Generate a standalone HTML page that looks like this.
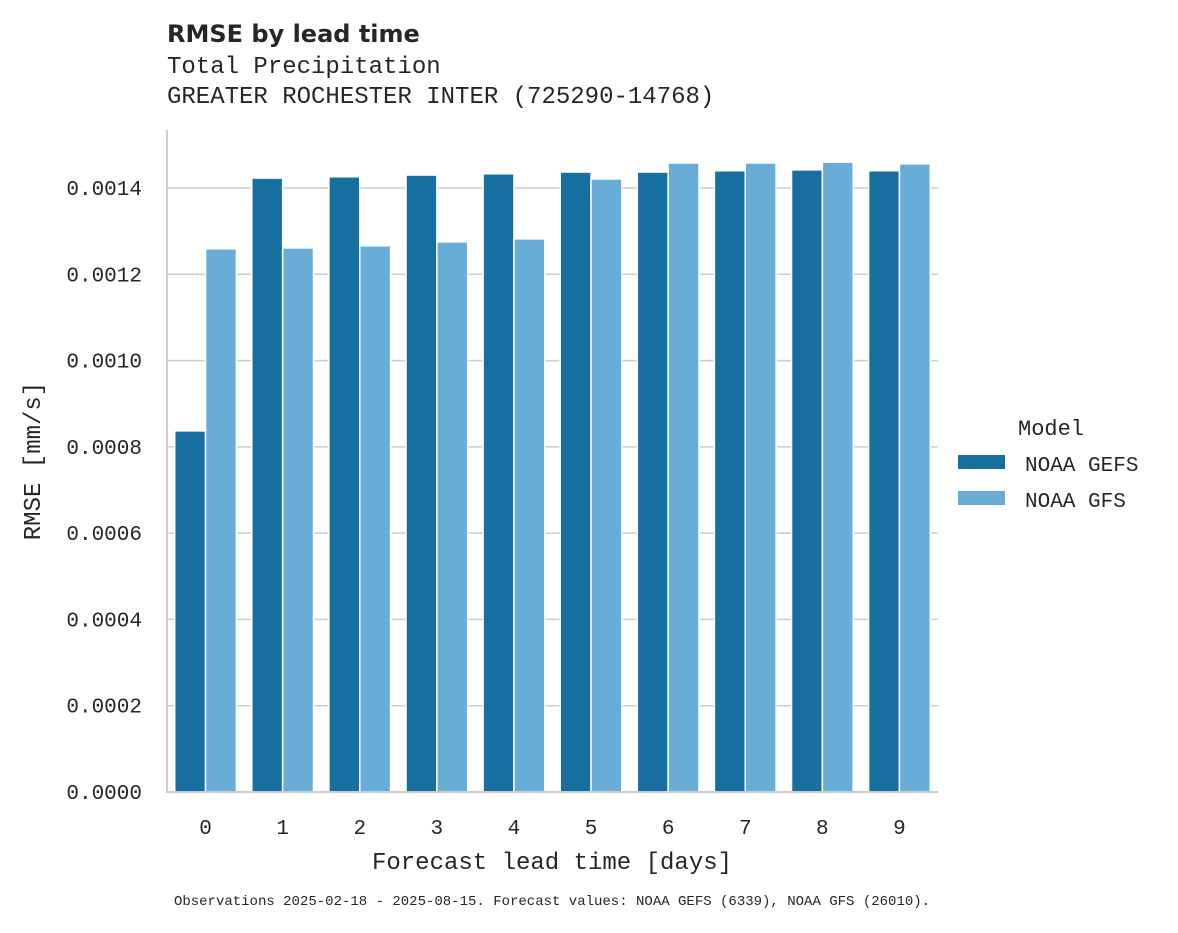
<!DOCTYPE html>
<html><head><meta charset="utf-8"><style>
body{margin:0;background:#fff}
svg text{font-family:"Liberation Mono",monospace;fill:#262626}
</style></head><body>
<svg width="1178" height="928" viewBox="0 0 1178 928" xmlns="http://www.w3.org/2000/svg" id="svg">
<text x="167" y="42" style="font-family:'DejaVu Sans','Liberation Sans',sans-serif;font-weight:bold;font-size:24px">RMSE by lead time</text>
<text x="167" y="73" font-size="24">Total Precipitation</text>
<text x="167" y="103" font-size="24">GREATER ROCHESTER INTER (725290-14768)</text>
<g id="grid"></g><g id="bars"></g><g id="axes"></g>
<text transform="translate(40,461) rotate(-90)" text-anchor="middle" font-size="24">RMSE [mm/s]</text>
<text x="552" y="869" text-anchor="middle" font-size="24">Forecast lead time [days]</text>
<g>
<text x="1018" y="435" font-size="22">Model</text>
<rect x="958" y="455" width="47" height="14" fill="#176f9f"/>
<text x="1025" y="471" font-size="21">NOAA GEFS</text>
<rect x="958" y="491" width="47" height="14" fill="#67add6"/>
<text x="1025" y="507" font-size="21">NOAA GFS</text>
</g>
<text x="552" y="905" text-anchor="middle" font-size="14">Observations 2025-02-18 - 2025-08-15. Forecast values: NOAA GEFS (6339), NOAA GFS (26010).</text>
</svg>
<script>
const categories=["0","1","2","3","4","5","6","7","8","9"];
const gefs=[0.000837,0.001423,0.001426,0.00143,0.001433,0.001437,0.001437,0.00144,0.001442,0.00144];
const gfs=[0.001259,0.001261,0.001266,0.001275,0.001282,0.001421,0.001458,0.001458,0.00146,0.001456];
const yTicks=[0,0.0002,0.0004,0.0006,0.0008,0.0010,0.0012,0.0014];
const NS="http://www.w3.org/2000/svg";
const x0=167,x1=938,yb=792,ytop=130;
const y=v=>yb-v/0.0014*(792-188);
const band=(x1-x0)/categories.length;
function mk(t,a,p){const e=document.createElementNS(NS,t);for(const k in a)e.setAttribute(k,a[k]);document.getElementById(p).appendChild(e);return e;}
yTicks.forEach((t,i)=>{
 if(i>0){const l=mk('line',{x1:x0,x2:x1,y1:y(t),y2:y(t),stroke:'#cccccc','stroke-width':1.5},'grid');
 
 }
 const tx=mk('text',{x:142,y:y(t)+7,'text-anchor':'end','font-size':21},'axes');tx.textContent=t.toFixed(4);
 
 
});
const bw=band*0.4;
categories.forEach((c,i)=>{
 const cx=x0+band*(i+0.5);
 const a=mk('rect',{x:cx-bw,y:y(gefs[i]),width:bw,height:yb-y(gefs[i]),fill:'#176f9f',stroke:'#fff','stroke-width':1.5},'bars');
 
 
 const b=mk('rect',{x:cx,y:y(gfs[i]),width:bw,height:yb-y(gfs[i]),fill:'#67add6',stroke:'#fff','stroke-width':1.5},'bars');
 
 
 const t=mk('text',{x:cx,y:834,'text-anchor':'middle','font-size':21},'axes');t.textContent=c;
 
 
});
const s1=mk('line',{x1:x0,x2:x0,y1:ytop,y2:yb+1,stroke:'#cccccc','stroke-width':2},'axes');


const s2=mk('line',{x1:x0-1,x2:x1,y1:yb,y2:yb,stroke:'#cccccc','stroke-width':2},'axes');


</script>
</body></html>
